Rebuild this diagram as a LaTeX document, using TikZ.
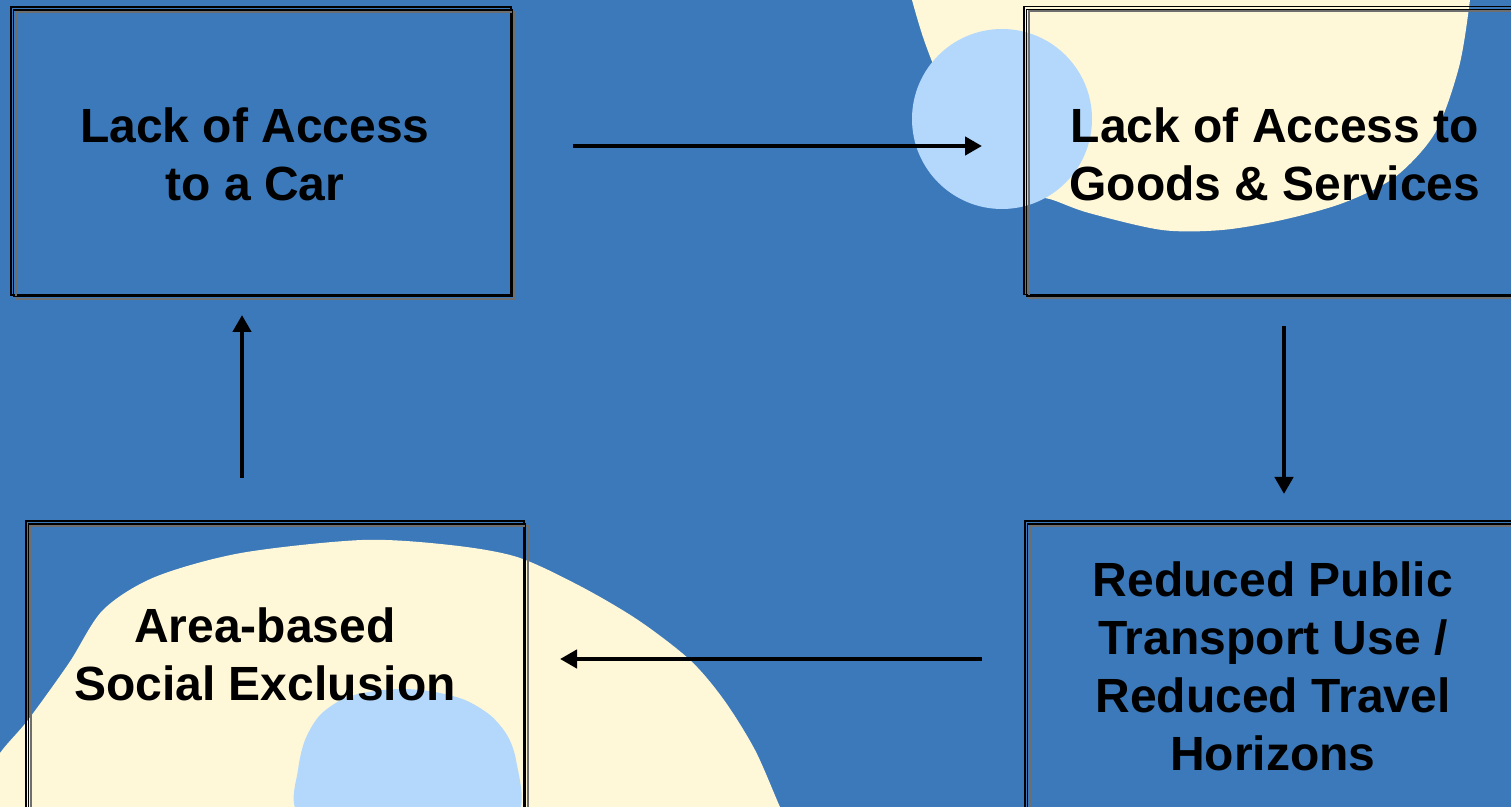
\documentclass[tikz,border=0pt]{standalone}
\usepackage{fontspec}
\setmainfont{Liberation Sans}
\usetikzlibrary{arrows.meta}
\definecolor{bgblue}{HTML}{3C79BA}
\definecolor{cream}{HTML}{FFF8D8}
\definecolor{lightblue}{HTML}{B3D8FC}
\definecolor{shadowgray}{HTML}{6E6E6E}
\tikzset{
  boxnode/.style={draw=black, line width=0.75pt, minimum width=250pt, minimum height=144pt, inner sep=0pt, outer sep=0pt},
  boxtext/.style={font=\bfseries\fontsize{24pt}{29pt}\selectfont, align=center, inner sep=0pt, text=black},
  innerline/.style={draw=black, line width=0.85pt},
  shadowline/.style={draw=shadowgray, line width=1pt},
  arr/.style={-{Triangle[length=8.5pt,width=9pt]}, line width=2.4pt, black},
}
\begin{document}
\begin{tikzpicture}[x=0.5pt,y=-0.5pt]
\useasboundingbox (0,0) rectangle (1511,807);
\begin{scope}
\clip (0,0) rectangle (1511,807);
\fill[bgblue] (0,0) rectangle (1511,807);
% top-right bubble
\fill[cream] plot[smooth cycle] coordinates {
  (905,-30) (912,0) (924,40) (940,80) (975,150) (1020,190) (1053,200)
  (1089,213) (1162,230) (1222,230) (1282,220) (1343,203) (1395,177)
  (1435,133) (1459,67) (1470,0) (1472,-30) (1190,-60)};
\fill[lightblue] (1002,119) circle[radius=45pt];
% bottom-left bubble
\fill[cream] plot[smooth cycle] coordinates {
  (-30,800) (0,753) (28,720) (69,663) (103,610) (155,577) (241,553)
  (362,540) (450,545) (517,557) (580,586) (638,620) (690,660) (724,700)
  (755,750) (780,807) (800,850) (400,880) (-30,850)};
\fill[lightblue] plot[smooth cycle] coordinates {
  (296,810) (298,770) (305,740) (320,715) (345,698) (375,691) (405,689)
  (435,692) (465,700) (490,715) (507,735) (516,760) (520,810) (480,850) (340,850)};
% boxes
\node[boxnode] (tl) at (261,151) {};
\node[boxnode] (tr) at (1274,150.5) {};
\node[boxnode, minimum width=249pt] (bl) at (275,665) {};
\node[boxnode] (br) at (1275,665) {};
\foreach \b in {tl,tr,bl,br}{
  \draw[shadowline] ([shift={(5,5)}]\b.north west) rectangle ([shift={(4,4)}]\b.south east);
  \draw[innerline] ([shift={(2.5,3)}]\b.north west) rectangle ([shift={(1.5,1.5)}]\b.south east);
}
% texts
\node[boxtext] (t1) at (255,154) {Lack of Access\\to a Car};
\node[boxtext] (t2) at (1275,154) {Lack of Access to\\Goods \& Services};
\node[boxtext] (t3) at (1273,666) {Reduced Public\\Transport Use /\\Reduced Travel\\Horizons};
\node[boxtext] (t4) at (265,654) {Area-based\\Social Exclusion};
% arrows
\draw[arr] ([shift={(62,-5)}]tl.east) -- ([shift={(-42,-4.5)}]tr.west);
\draw[arr] ([shift={(10,32)}]tr.south) -- ([shift={(9,-27)}]br.north);
\draw[arr] ([shift={(-43,-6)}]br.west) -- ([shift={(36,-6)}]bl.east);
\draw[arr] ([shift={(-33,-43)}]bl.north) -- ([shift={(-19,20)}]tl.south);
\end{scope}
\end{tikzpicture}
\end{document}
